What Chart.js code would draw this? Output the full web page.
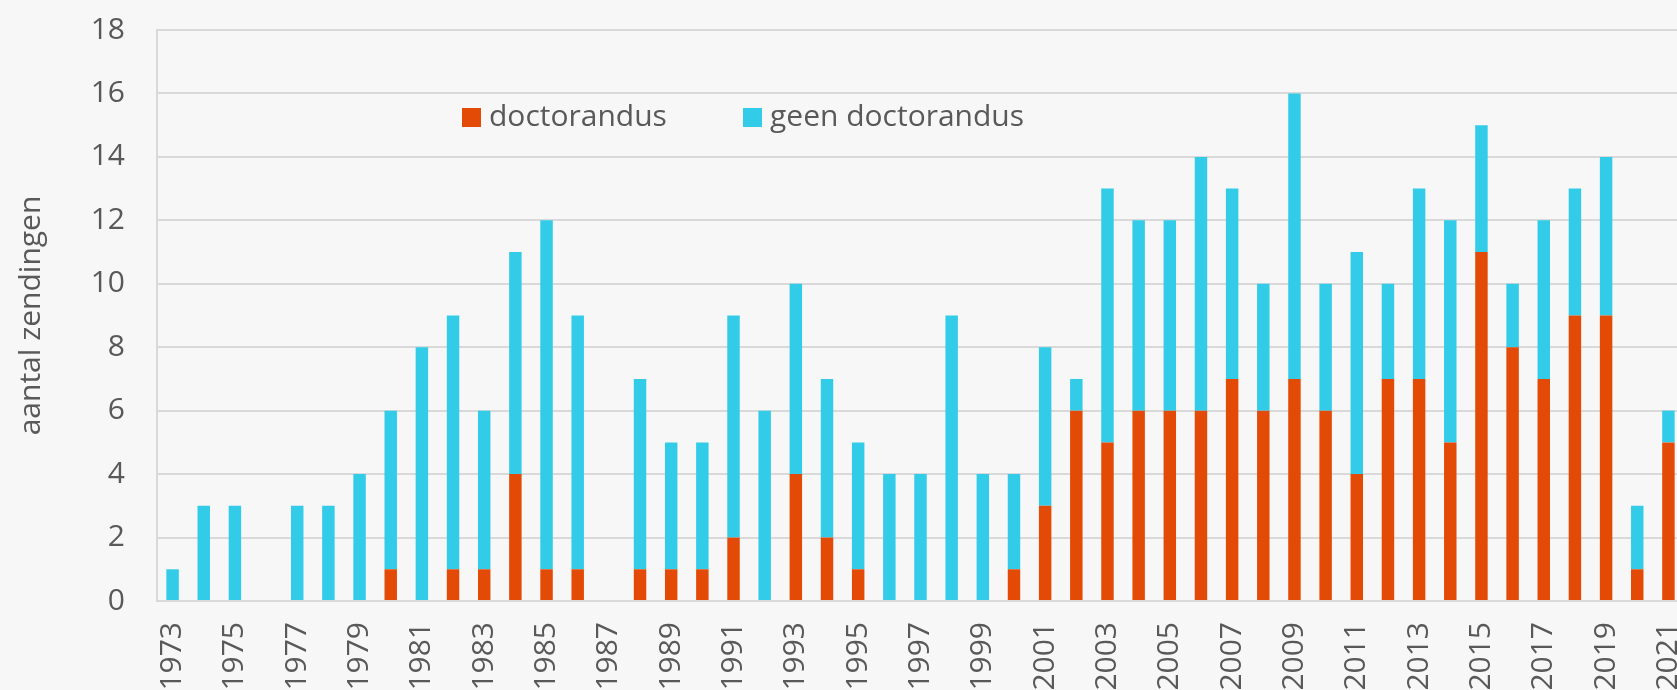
<!DOCTYPE html>
<html>
<head>
<meta charset="utf-8">
<script src="https://cdn.jsdelivr.net/npm/chart.js@4"></script>
<style>
  html, body { margin: 0; padding: 0; background: #f7f7f7; overflow: hidden; }
  #wrap { position: absolute; left: 0; top: 0; width: 1684px; height: 690px; }
</style>
</head>
<body>
<div id="wrap"><canvas id="barChart"></canvas></div>
<script>
const years = ['1973','1974','1975','1976','1977','1978','1979','1980','1981','1982',
  '1983','1984','1985','1986','1987','1988','1989','1990','1991','1992',
  '1993','1994','1995','1996','1997','1998','1999','2000','2001','2002',
  '2003','2004','2005','2006','2007','2008','2009','2010','2011','2012',
  '2013','2014','2015','2016','2017','2018','2019','2020','2021'];

const doctorandus = [0,0,0,0,0,0,0,1,0,1,
  1,4,1,1,0,1,1,1,2,0,
  4,2,1,0,0,0,0,1,3,6,
  5,6,6,6,7,6,7,6,4,7,
  7,5,11,8,7,9,9,1,5];

const geenDoctorandus = [1,3,3,0,3,3,4,5,8,8,
  5,7,11,8,0,6,4,4,7,6,
  6,5,4,4,4,9,4,3,5,1,
  8,6,6,8,6,4,9,4,7,3,
  6,7,4,2,5,4,5,2,1];

const yTicks = [0, 2, 4, 6, 8, 10, 12, 14, 16, 18];

(function() {
  if (typeof Chart === 'undefined') return;

  const textColor = '#595959';
  const gridColor = '#d9d9d9';
  const fontFamily = '"Open Sans", "Noto Sans", sans-serif';

  // legend drawn inside the plot area, like the original
  const innerLegend = {
    id: 'innerLegend',
    afterDraw: function(chart) {
      const ctx = chart.ctx;
      const spots = [462, 743];
      ctx.save();
      ctx.font = '30px ' + fontFamily;
      ctx.textBaseline = 'alphabetic';
      ctx.textAlign = 'left';
      chart.data.datasets.forEach(function(ds, i) {
        const x = spots[i];
        ctx.fillStyle = ds.backgroundColor;
        ctx.fillRect(x, 108, 19, 19);
        ctx.fillStyle = textColor;
        ctx.fillText(ds.label, x + 27, 126);
      });
      ctx.restore();
    }
  };

  new Chart(document.getElementById('barChart'), {
    type: 'bar',
    data: {
      labels: years,
      datasets: [{
        label: 'doctorandus',
        data: doctorandus,
        backgroundColor: '#e24a06',
        barPercentage: 0.4,
        categoryPercentage: 1
      }, {
        label: 'geen doctorandus',
        data: geenDoctorandus,
        backgroundColor: '#32cce8',
        barPercentage: 0.4,
        categoryPercentage: 1
      }]
    },
    options: {
      responsive: true,
      maintainAspectRatio: false,
      animation: false,
      layout: { padding: { top: 30, right: 0, bottom: 0, left: 0 } },
      plugins: {
        legend: { display: false },
        tooltip: { enabled: false }
      },
      scales: {
        x: {
          stacked: true,
          grid: { display: false, drawTicks: false },
          border: { display: true, color: gridColor, width: 2 },
          ticks: {
            autoSkip: false,
            minRotation: 90,
            maxRotation: 90,
            padding: 21,
            color: textColor,
            font: { family: fontFamily, size: 30 },
            callback: function(value, index) {
              return index % 2 === 0 ? this.getLabelForValue(value) : '';
            }
          },
          afterFit: function(scale) {
            scale.height = 89;
            scale.paddingLeft = 0;
            scale.paddingRight = 0;
          }
        },
        y: {
          stacked: true,
          min: 0,
          max: 18,
          afterBuildTicks: function(scale) {
            scale.ticks = yTicks.map(function(v) { return { value: v }; });
          },
          grid: { color: gridColor, lineWidth: 2, drawTicks: false },
          border: { display: true, color: gridColor, width: 2 },
          ticks: {
            padding: 32,
            color: textColor,
            font: { family: fontFamily, size: 30 }
          },
          title: {
            display: true,
            text: 'aantal zendingen',
            color: textColor,
            padding: { top: 13, bottom: 0 },
            font: { family: fontFamily, size: 30 }
          },
          afterFit: function(scale) {
            scale.width = 157;
            scale.paddingTop = 0;
            scale.paddingBottom = 0;
          }
        }
      }
    },
    plugins: [innerLegend]
  });
})();
</script>
</body>
</html>
